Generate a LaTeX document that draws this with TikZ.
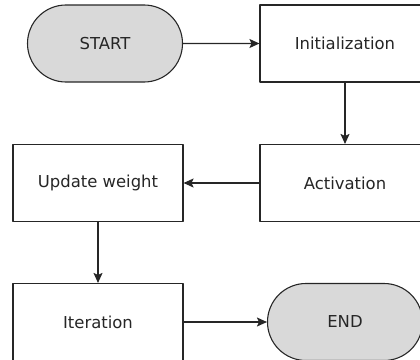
\documentclass[tikz,border=0pt]{standalone}
\usepackage{fontspec}
\setmainfont{DejaVu Sans}
\usetikzlibrary{arrows.meta,shapes.misc}
\newlength{\lw}
\setlength{\lw}{1.1bp}
\tikzstyle{every picture}+=[>={Stealth[length=10bp,width=9bp,inset=2bp]}]
\tikzstyle{every picture}+=[line width=\lw]
\tikzstyle{every picture}+=[draw=black!85]
\tikzstyle{every picture}+=[join=round]
\tikzstyle{every node}+=[font=\fontsize{16.5}{20}\selectfont, text=black!85]
\tikzstyle{proc}=[draw=black!85, fill=white, inner sep=0pt]
\tikzstyle{proc}+=[minimum width=170bp, minimum height=77bp]
\tikzstyle{term}=[draw=black!85, fill=black!15, rounded rectangle, inner sep=0pt]
\tikzstyle{term}+=[minimum width=155bp, minimum height=77bp]

\begin{document}
\begin{tikzpicture}
\useasboundingbox (0bp,0bp) rectangle (420bp,-360bp);
\node[term] (start) at (105bp,-43.5bp) {START};
\node[proc] (init) [right of=start, node distance=240bp] {Initialization};
\node[proc] (act) [below of=init, node distance=139.5bp] {Activation};
\node[proc] (upd) [left of=act, node distance=247bp] {Update weight};
\node[proc] (iter) [below of=upd, node distance=139bp] {Iteration};
\node[term] (end) [right of=iter, node distance=247bp] {END};

\path[->, draw=black!85]
   (start) edge (init)
   (init) edge (act)
   (act) edge (upd)
   (upd) edge (iter)
   (iter) edge (end)
;
\end{tikzpicture}
\end{document}
